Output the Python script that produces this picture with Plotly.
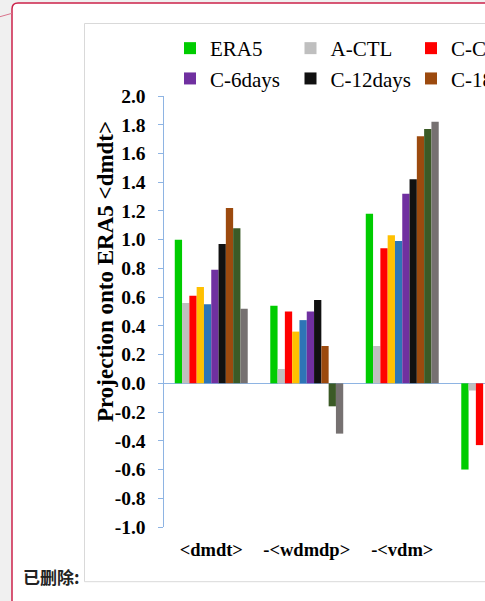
import plotly.graph_objects as go

# ---------------- data ----------------
categories = ["dmdt", "wdmdp", "vdm", "resid"]
category_labels = ["<dmdt>", "-<wdmdp>", "-<vdm>", ""]

series_names = ["ERA5", "A-CTL", "C-CTL", "C-1day", "C-3days",
                "C-6days", "C-12days", "C-18days", "C-24days", "C-30days"]
series_colors = ["#00CC00", "#BFBFBF", "#FF0000", "#FFC000", "#2E75B6",
                 "#7030A0", "#111111", "#9C4A0E", "#3B5A26", "#767171"]

era5 = [1.00, 0.54, 1.18, -0.60]
a_ctl = [0.56, 0.10, 0.26, -0.05]
c_ctl = [0.61, 0.50, 0.94, -0.43]
c_1day = [0.67, 0.36, 1.03, None]
c_3days = [0.55, 0.44, 0.99, None]
c_6days = [0.79, 0.50, 1.32, None]
c_12days = [0.97, 0.58, 1.42, None]
c_18days = [1.22, 0.26, 1.72, None]
c_24days = [1.08, -0.16, 1.77, None]
c_30days = [0.52, -0.35, 1.82, None]
series_values = [era5, a_ctl, c_ctl, c_1day, c_3days,
                 c_6days, c_12days, c_18days, c_24days, c_30days]

y_tickvals = [-1.0, -0.8, -0.6, -0.4, -0.2, 0.0, 0.2, 0.4, 0.6, 0.8, 1.0,
              1.2, 1.4, 1.6, 1.8, 2.0]
y_ticktext = ["-1.0", "-0.8", "-0.6", "-0.4", "-0.2", "0.0", "0.2", "0.4",
              "0.6", "0.8", "1.0", "1.2", "1.4", "1.6", "1.8", "2.0"]

# ---------------- layout helpers ----------------
W, H = 650, 601
def px(x):
    return x / W
def py(y):
    return 1 - y / H

SERIF = "Liberation Serif"
AXIS_BLUE = "#8EB4E3"

fig = go.Figure()
for name, color, vals in zip(series_names, series_colors, series_values):
    fig.add_trace(go.Bar(
        x=categories, y=vals, name=name,
        marker=dict(color=color, line=dict(width=0)),
    ))

shapes = [
    # grey document background outside the comment frame
    dict(type="path", xref="paper", yref="paper", layer="below",
         path=(f"M 0,1 L 1,1 L 1,{py(3)} L {px(18)},{py(3)} "
               f"Q {px(12)},{py(3)} {px(12)},{py(9)} L {px(12)},0 L 0,0 Z"),
         fillcolor="#F0F0F0", line=dict(width=0)),
    # red rounded frame
    dict(type="path", xref="paper", yref="paper", layer="below",
         path=(f"M {px(12)},0 L {px(12)},{py(9)} "
               f"Q {px(12)},{py(3)} {px(18)},{py(3)} L 1,{py(3)}"),
         line=dict(color="#CC2249", width=1.5)),
    # connector line
    dict(type="line", xref="paper", yref="paper", layer="below",
         x0=0, y0=py(16.7), x1=px(12), y1=py(13.3),
         line=dict(color="#D9738C", width=1)),
    # chart box
    dict(type="rect", xref="paper", yref="paper", layer="below",
         x0=px(84.5), x1=px(648), y0=py(581.7), y1=py(23.5),
         line=dict(color="#D9D9D9", width=1)),
]

annotations = [
    dict(text="<b>Projection onto ERA5 &lt;dmdt&gt;</b>",
         xref="paper", yref="paper", x=px(105), y=py(272),
         xanchor="center", yanchor="middle", textangle=-90, showarrow=False,
         font=dict(family=SERIF, size=23, color="black")),
    dict(text="<b>已删除:</b>", xref="paper", yref="paper", x=px(21), y=py(576),
         xanchor="left", yanchor="middle", showarrow=False,
         font=dict(family="Noto Sans CJK SC", size=17, color="#222222")),
]

fig.update_layout(
    width=W, height=H,
    margin=dict(l=0, r=0, t=0, b=0, autoexpand=False),
    paper_bgcolor="white", plot_bgcolor="rgba(0,0,0,0)",
    barmode="group", bargap=0.236, bargroupgap=0,
    showlegend=True,
    legend=dict(orientation="h", x=px(170), y=py(28),
                xanchor="left", yanchor="top",
                entrywidth=75.5, entrywidthmode="pixels",
                traceorder="normal", bgcolor="rgba(0,0,0,0)",
                font=dict(family=SERIF, size=21, color="black")),
    xaxis=dict(domain=[px(163.5), px(163.5 + 4 * 95.5)],
               range=[-0.5, 3.5], type="category",
               categoryorder="array", categoryarray=categories,
               tickvals=categories, ticktext=category_labels,
               showline=False, showgrid=False, zeroline=False, ticks="",
               ticklabelstandoff=9,
               tickfont=dict(family=SERIF, size=18.5, color="black", weight="bold")),
    yaxis=dict(domain=[py(527), py(96)], range=[-1.0, 2.0],
               tickvals=y_tickvals, ticktext=y_ticktext,
               showline=True, linecolor=AXIS_BLUE, linewidth=1,
               ticks="outside", ticklen=5, tickcolor=AXIS_BLUE, tickwidth=1,
               showgrid=False, zeroline=True, zerolinecolor=AXIS_BLUE,
               zerolinewidth=1, ticklabelstandoff=8,
               tickfont=dict(family=SERIF, size=19.5, color="black", weight="bold")),
    shapes=shapes, annotations=annotations,
)

fig.write_html(
    "out.html",
    post_script=("document.documentElement.style.overflow='hidden';"
                 "document.body.style.overflow='hidden';"
                 "document.body.style.margin='0';"),
)
